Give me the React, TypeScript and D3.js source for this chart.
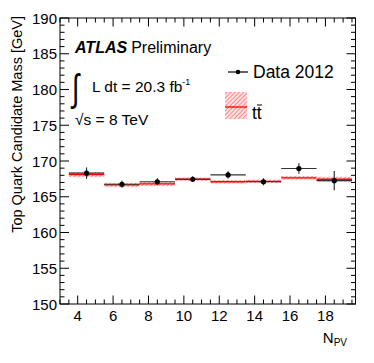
import React from 'react';
import * as d3 from 'd3';

// N_PV bins (centres) and the top quark candidate mass per bin
const binCenters = [4.5, 6.5, 8.5, 10.5, 12.5, 14.5, 16.5, 18.5];
const binHalfWidth = 1;
const dataMass = [168.3, 166.75, 167.1, 167.45, 168.05, 167.1, 168.95, 167.25];
const dataErr = [0.8, 0.5, 0.5, 0.4, 0.5, 0.5, 0.75, 1.35];
const mcMass = [168.1, 166.65, 166.8, 167.45, 167.1, 167.15, 167.65, 167.45];
const mcErr = [0.35, 0.3, 0.3, 0.25, 0.25, 0.25, 0.25, 0.35];

const xTicks = [4, 6, 8, 10, 12, 14, 16, 18];
const yTicks = [150, 155, 160, 165, 170, 175, 180, 185, 190];

const font = '"Liberation Sans", Arial, Helvetica, sans-serif';

export default function App() {
  const width = 374;
  const height = 363;
  const left = 60, right = 355.5, top = 18, bottom = 304;

  const x = d3.scaleLinear().domain([3, 19.7]).range([left, right]);
  const y = d3.scaleLinear().domain([150, 190]).range([bottom, top]);

  const xMinor = d3.range(3, 19.7, 0.5);
  const yMinor = d3.range(150, 190.01, 1);

  return (
    <svg width={width} height={height} style={{ position: 'absolute', left: 0, top: 0, background: '#fff' }} fontFamily={font}>
      <defs>
        <pattern id="hatch" patternUnits="userSpaceOnUse" width="3" height="3" patternTransform="rotate(45)">
          <rect width="3" height="3" fill="#ffe0e0" />
          <line x1="0" y1="0" x2="0" y2="3" stroke="#ff5a5a" strokeWidth="1.3" />
        </pattern>
      </defs>

      {/* MC bands and central values */}
      {binCenters.map((c, i) => (
        <g key={'mc' + i}>
          <rect x={x(c - binHalfWidth)} y={y(mcMass[i] + mcErr[i])} width={x(c + binHalfWidth) - x(c - binHalfWidth)}
            height={y(mcMass[i] - mcErr[i]) - y(mcMass[i] + mcErr[i])} fill="url(#hatch)" />
          <line x1={x(c - binHalfWidth)} x2={x(c + binHalfWidth)} y1={y(mcMass[i])} y2={y(mcMass[i])} stroke="#ff0000" strokeWidth={1.3} />
        </g>
      ))}

      {/* Data points */}
      {binCenters.map((c, i) => (
        <g key={'d' + i}>
          <line x1={x(c - binHalfWidth)} x2={x(c + binHalfWidth)} y1={y(dataMass[i])} y2={y(dataMass[i])} stroke="#333" strokeWidth={1.2} />
          <line x1={x(c)} x2={x(c)} y1={y(dataMass[i] + dataErr[i])} y2={y(dataMass[i] - dataErr[i])} stroke="#333" strokeWidth={1.2} />
          <circle cx={x(c)} cy={y(dataMass[i])} r={2.6} fill="#000" />
        </g>
      ))}

      {/* frame */}
      <rect x={left} y={top} width={right - left} height={bottom - top} fill="none" stroke="#000" strokeWidth={1} />

      {/* x ticks */}
      {xMinor.map(v => {
        const major = xTicks.includes(v);
        const len = major ? 8.5 : 4.5;
        return (
          <g key={'xt' + v}>
            <line x1={x(v)} x2={x(v)} y1={bottom} y2={bottom - len} stroke="#000" />
            <line x1={x(v)} x2={x(v)} y1={top} y2={top + len} stroke="#000" />
          </g>
        );
      })}
      {xTicks.map(v => (
        <text key={'xl' + v} x={x(v)} y={321} fontSize={15} textAnchor="middle">{v}</text>
      ))}

      {/* y ticks */}
      {yMinor.map(v => {
        const major = v % 5 === 0;
        const len = major ? 9 : 4.5;
        return (
          <g key={'yt' + v}>
            <line x1={left} x2={left + len} y1={y(v)} y2={y(v)} stroke="#000" />
            <line x1={right} x2={right - len} y1={y(v)} y2={y(v)} stroke="#000" />
          </g>
        );
      })}
      {yTicks.map(v => (
        <text key={'yl' + v} x={57} y={y(v) + 5.5} fontSize={15} textAnchor="end">{v}</text>
      ))}

      {/* axis titles */}
      <text transform={`translate(22,${top - 2}) rotate(-90)`} fontSize={14.5} textAnchor="end">Top Quark Candidate Mass [GeV]</text>
      <text x={347} y={343} fontSize={15} textAnchor="end">
        N<tspan fontSize={10} dy={3}>PV</tspan>
      </text>

      {/* labels */}
      <text x={75} y={53} fontSize={16}>
        <tspan fontWeight="bold" fontStyle="italic">ATLAS</tspan>
        <tspan dx={4}>Preliminary</tspan>
      </text>
      <text x={72} y={101} fontSize={38} transform="scale(0.7,1) translate(31,0)">∫</text>
      <text x={92} y={92} fontSize={15.5}>
        L dt = 20.3 fb<tspan fontSize={9} dy={-7}>-1</tspan>
      </text>
      <text x={75} y={125} fontSize={15.5}>√s = 8 TeV</text>

      {/* legend */}
      <line x1={228} x2={248} y1={72} y2={72} stroke="#000" strokeWidth={1.2} />
      <circle cx={238} cy={72} r={2.3} fill="#000" />
      <text x={253} y={78} fontSize={17.5}>Data 2012</text>
      <rect x={225} y={92} width={22} height={27} fill="url(#hatch)" />
      <line x1={225} x2={247} y1={107} y2={107} stroke="#ff0000" strokeWidth={1.3} />
      <text x={252} y={119} fontSize={17.5}>tt</text>
      <line x1={257} x2={262} y1={105} y2={105} stroke="#000" strokeWidth={1} />
    </svg>
  );
}
